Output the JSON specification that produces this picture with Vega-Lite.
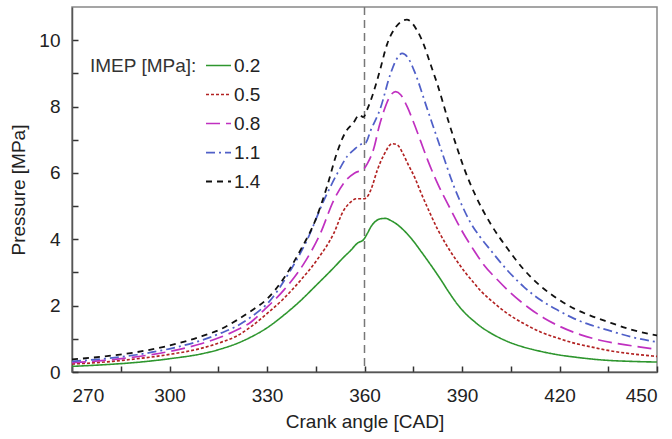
{
  "$schema": "https://vega.github.io/schema/vega-lite/v6.json",
  "width": 585,
  "height": 365,
  "autosize": {"type": "none"},
  "padding": {"left": 72, "top": 7, "right": 15, "bottom": 67},
  "config": {
    "font": "Liberation Sans",
    "view": {"stroke": "#888", "strokeWidth": 1.5},
    "axis": {
      "grid": false,
      "domainColor": "#555",
      "domainWidth": 1.5,
      "tickColor": "#333",
      "tickWidth": 1.5,
      "tickSize": -6,
      "labelFontSize": 19,
      "labelColor": "#222",
      "titleFontSize": 19,
      "titleFontWeight": "normal",
      "titleColor": "#222"
    }
  },
  "datasets": {
    "curves": [
      {"x": 270, "p": 0.17, "s": "0.2"}, {"x": 280, "p": 0.22, "s": "0.2"}, {"x": 290, "p": 0.29, "s": "0.2"}, {"x": 300, "p": 0.4, "s": "0.2"}, {"x": 310, "p": 0.55, "s": "0.2"}, {"x": 316, "p": 0.7, "s": "0.2"}, {"x": 321, "p": 0.87, "s": "0.2"}, {"x": 325, "p": 1.05, "s": "0.2"}, {"x": 330, "p": 1.33, "s": "0.2"}, {"x": 335, "p": 1.7, "s": "0.2"}, {"x": 340, "p": 2.12, "s": "0.2"}, {"x": 345, "p": 2.6, "s": "0.2"}, {"x": 350.5, "p": 3.14, "s": "0.2"}, {"x": 353.5, "p": 3.45, "s": "0.2"}, {"x": 355.7, "p": 3.66, "s": "0.2"}, {"x": 357.8, "p": 3.88, "s": "0.2"}, {"x": 359.8, "p": 4.0, "s": "0.2"}, {"x": 361, "p": 4.2, "s": "0.2"}, {"x": 362, "p": 4.38, "s": "0.2"}, {"x": 363.5, "p": 4.55, "s": "0.2"}, {"x": 365, "p": 4.62, "s": "0.2"}, {"x": 366.5, "p": 4.63, "s": "0.2"}, {"x": 368, "p": 4.57, "s": "0.2"}, {"x": 370, "p": 4.45, "s": "0.2"}, {"x": 372.3, "p": 4.25, "s": "0.2"}, {"x": 375, "p": 3.95, "s": "0.2"}, {"x": 377.5, "p": 3.62, "s": "0.2"}, {"x": 380, "p": 3.28, "s": "0.2"}, {"x": 383.5, "p": 2.78, "s": "0.2"}, {"x": 386, "p": 2.4, "s": "0.2"}, {"x": 388.6, "p": 2.04, "s": "0.2"}, {"x": 391, "p": 1.77, "s": "0.2"}, {"x": 393.7, "p": 1.53, "s": "0.2"}, {"x": 396, "p": 1.35, "s": "0.2"}, {"x": 398.9, "p": 1.17, "s": "0.2"}, {"x": 404, "p": 0.92, "s": "0.2"}, {"x": 409, "p": 0.75, "s": "0.2"}, {"x": 414.3, "p": 0.62, "s": "0.2"}, {"x": 419.5, "p": 0.52, "s": "0.2"}, {"x": 424.6, "p": 0.45, "s": "0.2"}, {"x": 430, "p": 0.39, "s": "0.2"}, {"x": 435, "p": 0.35, "s": "0.2"}, {"x": 442, "p": 0.32, "s": "0.2"}, {"x": 450, "p": 0.3, "s": "0.2"},

      {"x": 270, "p": 0.24, "s": "0.5"}, {"x": 280, "p": 0.3, "s": "0.5"}, {"x": 290, "p": 0.4, "s": "0.5"}, {"x": 300, "p": 0.53, "s": "0.5"}, {"x": 310, "p": 0.72, "s": "0.5"}, {"x": 316, "p": 0.9, "s": "0.5"}, {"x": 321, "p": 1.1, "s": "0.5"}, {"x": 325, "p": 1.36, "s": "0.5"}, {"x": 330, "p": 1.76, "s": "0.5"}, {"x": 335, "p": 2.2, "s": "0.5"}, {"x": 340.3, "p": 2.76, "s": "0.5"}, {"x": 345.4, "p": 3.38, "s": "0.5"}, {"x": 350.5, "p": 4.17, "s": "0.5"}, {"x": 353.6, "p": 4.87, "s": "0.5"}, {"x": 355.5, "p": 5.1, "s": "0.5"}, {"x": 357.5, "p": 5.22, "s": "0.5"}, {"x": 359.8, "p": 5.22, "s": "0.5"}, {"x": 361, "p": 5.3, "s": "0.5"}, {"x": 362, "p": 5.5, "s": "0.5"}, {"x": 364, "p": 6.1, "s": "0.5"}, {"x": 366, "p": 6.55, "s": "0.5"}, {"x": 368.5, "p": 6.88, "s": "0.5"}, {"x": 370, "p": 6.85, "s": "0.5"}, {"x": 372, "p": 6.55, "s": "0.5"}, {"x": 373.2, "p": 6.3, "s": "0.5"}, {"x": 375.5, "p": 5.85, "s": "0.5"}, {"x": 377.3, "p": 5.42, "s": "0.5"}, {"x": 380, "p": 4.82, "s": "0.5"}, {"x": 382.5, "p": 4.3, "s": "0.5"}, {"x": 385, "p": 3.86, "s": "0.5"}, {"x": 388.6, "p": 3.32, "s": "0.5"}, {"x": 391, "p": 3.0, "s": "0.5"}, {"x": 393.7, "p": 2.68, "s": "0.5"}, {"x": 396, "p": 2.42, "s": "0.5"}, {"x": 398.9, "p": 2.16, "s": "0.5"}, {"x": 404, "p": 1.76, "s": "0.5"}, {"x": 409, "p": 1.46, "s": "0.5"}, {"x": 414.3, "p": 1.2, "s": "0.5"}, {"x": 419.5, "p": 1.02, "s": "0.5"}, {"x": 424.5, "p": 0.87, "s": "0.5"}, {"x": 430, "p": 0.75, "s": "0.5"}, {"x": 434.9, "p": 0.65, "s": "0.5"}, {"x": 442, "p": 0.55, "s": "0.5"}, {"x": 450, "p": 0.47, "s": "0.5"},

      {"x": 270, "p": 0.28, "s": "0.8"}, {"x": 280, "p": 0.35, "s": "0.8"}, {"x": 290, "p": 0.46, "s": "0.8"}, {"x": 300, "p": 0.62, "s": "0.8"}, {"x": 310, "p": 0.86, "s": "0.8"}, {"x": 316, "p": 1.06, "s": "0.8"}, {"x": 321, "p": 1.28, "s": "0.8"}, {"x": 325, "p": 1.5, "s": "0.8"}, {"x": 329, "p": 1.86, "s": "0.8"}, {"x": 335.1, "p": 2.46, "s": "0.8"}, {"x": 341.3, "p": 3.26, "s": "0.8"}, {"x": 346.4, "p": 4.17, "s": "0.8"}, {"x": 350.5, "p": 5.17, "s": "0.8"}, {"x": 354.7, "p": 5.82, "s": "0.8"}, {"x": 357, "p": 6.0, "s": "0.8"}, {"x": 359.8, "p": 6.12, "s": "0.8"}, {"x": 361, "p": 6.3, "s": "0.8"}, {"x": 362.9, "p": 6.75, "s": "0.8"}, {"x": 364.5, "p": 7.4, "s": "0.8"}, {"x": 366, "p": 7.88, "s": "0.8"}, {"x": 367.5, "p": 8.25, "s": "0.8"}, {"x": 369.6, "p": 8.45, "s": "0.8"}, {"x": 371.2, "p": 8.35, "s": "0.8"}, {"x": 373.2, "p": 7.98, "s": "0.8"}, {"x": 375, "p": 7.55, "s": "0.8"}, {"x": 377.3, "p": 6.95, "s": "0.8"}, {"x": 379.5, "p": 6.37, "s": "0.8"}, {"x": 382.4, "p": 5.7, "s": "0.8"}, {"x": 386.5, "p": 4.9, "s": "0.8"}, {"x": 390, "p": 4.25, "s": "0.8"}, {"x": 393.7, "p": 3.66, "s": "0.8"}, {"x": 396.8, "p": 3.22, "s": "0.8"}, {"x": 400.9, "p": 2.78, "s": "0.8"}, {"x": 405, "p": 2.38, "s": "0.8"}, {"x": 410.2, "p": 1.96, "s": "0.8"}, {"x": 415.3, "p": 1.62, "s": "0.8"}, {"x": 420.4, "p": 1.36, "s": "0.8"}, {"x": 426.6, "p": 1.12, "s": "0.8"}, {"x": 432.8, "p": 0.95, "s": "0.8"}, {"x": 438.9, "p": 0.84, "s": "0.8"}, {"x": 445, "p": 0.75, "s": "0.8"}, {"x": 450, "p": 0.68, "s": "0.8"},

      {"x": 270, "p": 0.32, "s": "1.1"}, {"x": 280, "p": 0.4, "s": "1.1"}, {"x": 290, "p": 0.52, "s": "1.1"}, {"x": 300, "p": 0.7, "s": "1.1"}, {"x": 310, "p": 0.96, "s": "1.1"}, {"x": 316, "p": 1.18, "s": "1.1"}, {"x": 321, "p": 1.4, "s": "1.1"}, {"x": 325, "p": 1.65, "s": "1.1"}, {"x": 331, "p": 2.16, "s": "1.1"}, {"x": 337.2, "p": 3.06, "s": "1.1"}, {"x": 342.3, "p": 3.97, "s": "1.1"}, {"x": 347.5, "p": 5.17, "s": "1.1"}, {"x": 351.6, "p": 5.98, "s": "1.1"}, {"x": 354.7, "p": 6.5, "s": "1.1"}, {"x": 357, "p": 6.72, "s": "1.1"}, {"x": 359.3, "p": 6.88, "s": "1.1"}, {"x": 360.3, "p": 6.9, "s": "1.1"}, {"x": 361.9, "p": 7.28, "s": "1.1"}, {"x": 364.9, "p": 7.95, "s": "1.1"}, {"x": 368, "p": 8.99, "s": "1.1"}, {"x": 370, "p": 9.45, "s": "1.1"}, {"x": 371.6, "p": 9.6, "s": "1.1"}, {"x": 373.5, "p": 9.45, "s": "1.1"}, {"x": 375.2, "p": 9.1, "s": "1.1"}, {"x": 379.3, "p": 7.93, "s": "1.1"}, {"x": 383.4, "p": 6.75, "s": "1.1"}, {"x": 387.5, "p": 5.6, "s": "1.1"}, {"x": 390, "p": 5.02, "s": "1.1"}, {"x": 392.5, "p": 4.52, "s": "1.1"}, {"x": 395.5, "p": 4.08, "s": "1.1"}, {"x": 398.9, "p": 3.66, "s": "1.1"}, {"x": 404, "p": 3.06, "s": "1.1"}, {"x": 409.1, "p": 2.56, "s": "1.1"}, {"x": 414.3, "p": 2.16, "s": "1.1"}, {"x": 419.5, "p": 1.86, "s": "1.1"}, {"x": 424.5, "p": 1.61, "s": "1.1"}, {"x": 429.5, "p": 1.42, "s": "1.1"}, {"x": 434.9, "p": 1.26, "s": "1.1"}, {"x": 442, "p": 1.06, "s": "1.1"}, {"x": 450, "p": 0.9, "s": "1.1"},

      {"x": 270, "p": 0.38, "s": "1.4"}, {"x": 280, "p": 0.47, "s": "1.4"}, {"x": 290, "p": 0.6, "s": "1.4"}, {"x": 300, "p": 0.8, "s": "1.4"}, {"x": 310, "p": 1.08, "s": "1.4"}, {"x": 316, "p": 1.3, "s": "1.4"}, {"x": 321, "p": 1.58, "s": "1.4"}, {"x": 326, "p": 1.9, "s": "1.4"}, {"x": 330, "p": 2.2, "s": "1.4"}, {"x": 335, "p": 2.8, "s": "1.4"}, {"x": 340, "p": 3.62, "s": "1.4"}, {"x": 345, "p": 4.6, "s": "1.4"}, {"x": 348.5, "p": 5.6, "s": "1.4"}, {"x": 351.5, "p": 6.6, "s": "1.4"}, {"x": 354, "p": 7.2, "s": "1.4"}, {"x": 356.5, "p": 7.5, "s": "1.4"}, {"x": 358.5, "p": 7.75, "s": "1.4"}, {"x": 359.6, "p": 7.68, "s": "1.4"}, {"x": 361, "p": 7.95, "s": "1.4"}, {"x": 362.5, "p": 8.35, "s": "1.4"}, {"x": 364.5, "p": 9.0, "s": "1.4"}, {"x": 367, "p": 9.89, "s": "1.4"}, {"x": 369.6, "p": 10.39, "s": "1.4"}, {"x": 373, "p": 10.62, "s": "1.4"}, {"x": 376.2, "p": 10.29, "s": "1.4"}, {"x": 378.3, "p": 9.85, "s": "1.4"}, {"x": 380.4, "p": 9.25, "s": "1.4"}, {"x": 382.4, "p": 8.68, "s": "1.4"}, {"x": 386, "p": 7.5, "s": "1.4"}, {"x": 388.6, "p": 6.72, "s": "1.4"}, {"x": 390.6, "p": 6.15, "s": "1.4"}, {"x": 394, "p": 5.35, "s": "1.4"}, {"x": 398.9, "p": 4.45, "s": "1.4"}, {"x": 404, "p": 3.72, "s": "1.4"}, {"x": 409.1, "p": 3.08, "s": "1.4"}, {"x": 414.3, "p": 2.58, "s": "1.4"}, {"x": 419.5, "p": 2.2, "s": "1.4"}, {"x": 424.5, "p": 1.91, "s": "1.4"}, {"x": 429.5, "p": 1.7, "s": "1.4"}, {"x": 434.9, "p": 1.51, "s": "1.4"}, {"x": 442, "p": 1.28, "s": "1.4"}, {"x": 450, "p": 1.1, "s": "1.4"}
    ],
    "tdc": [{"x": 360}]
  },
  "layer": [
    {
      "data": {"name": "tdc"},
      "mark": {"type": "rule", "color": "#777", "strokeWidth": 1.5, "strokeDash": [8, 5]},
      "encoding": {"x": {"field": "x", "type": "quantitative"}}
    },
    {
      "data": {"name": "curves"},
      "mark": {"type": "line", "interpolate": "monotone"},
      "encoding": {
        "x": {
          "field": "x", "type": "quantitative",
          "scale": {"domain": [270, 450], "nice": false, "zero": false},
          "axis": {
            "title": "Crank angle [CAD]",
            "values": [270, 285, 300, 315, 330, 345, 360, 375, 390, 405, 420, 435, 450],
            "labelExpr": "datum.value % 30 == 0 ? datum.label : ''",
            "labelPadding": 20,
            "titlePadding": 7
          }
        },
        "y": {
          "field": "p", "type": "quantitative",
          "scale": {"domain": [0, 11], "nice": false},
          "axis": {
            "title": "Pressure [MPa]",
            "values": [0, 1, 2, 3, 4, 5, 6, 7, 8, 9, 10],
            "labelExpr": "datum.value % 2 == 0 ? datum.label : ''",
            "labelPadding": 18,
            "titlePadding": 10
          }
        },
        "detail": {"field": "s"},
        "stroke": {
          "field": "s", "type": "nominal",
          "scale": {"domain": ["0.2", "0.5", "0.8", "1.1", "1.4"], "range": ["#2e962e", "#b22222", "#c030c0", "#5060c8", "#111111"]},
          "legend": {
            "title": "IMEP [MPa]:",
            "orient": "none",
            "legendX": 18,
            "legendY": 45,
            "titleOrient": "left",
            "titleAnchor": "start",
            "titleBaseline": "line-top",
            "titleLineHeight": 29,
            "titleFontSize": 19,
            "titleFontWeight": "normal",
            "titleColor": "#333",
            "titlePadding": 8,
            "labelFontSize": 19,
            "labelColor": "#222",
            "labelOffset": 2,
            "symbolType": "stroke",
            "symbolSize": 625,
            "symbolStrokeWidth": 2,
            "rowPadding": 5
          }
        },
        "strokeDash": {
          "field": "s", "type": "nominal",
          "scale": {"domain": ["0.2", "0.5", "0.8", "1.1", "1.4"], "range": [[1, 0], [3, 2], [14, 6], [9, 4, 2, 4], [6, 5]]}
        },
        "strokeWidth": {
          "field": "s", "type": "nominal",
          "scale": {"domain": ["0.2", "0.5", "0.8", "1.1", "1.4"], "range": [1.6, 1.8, 2.2, 1.6, 2]}
        }
      }
    }
  ]
}
